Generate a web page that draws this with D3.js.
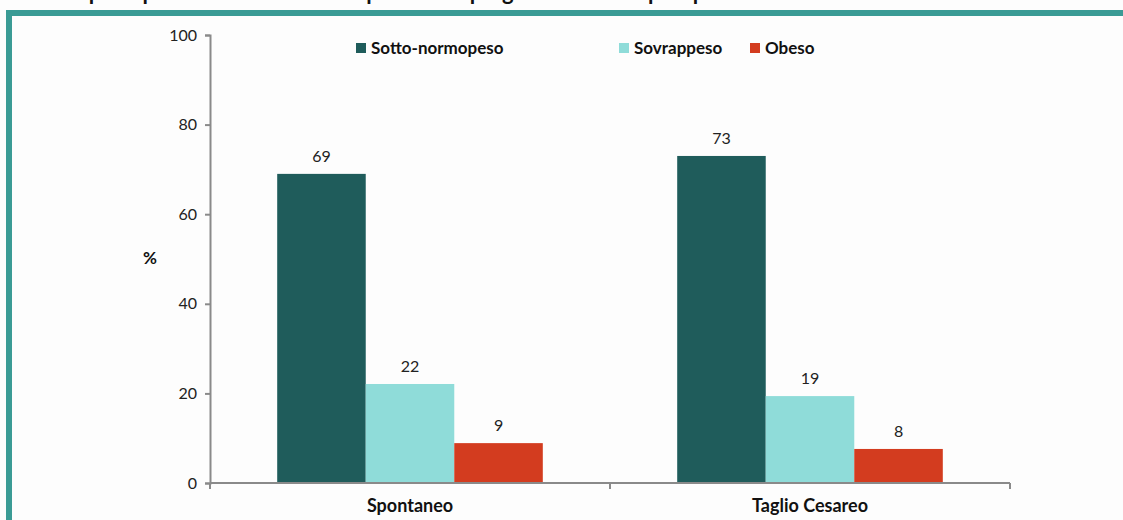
<!DOCTYPE html>
<html>
<head>
<meta charset="utf-8">
<script src="https://cdn.jsdelivr.net/npm/d3@7"></script>
<style>
  body { margin: 0; background: #fdfdfd; }
  svg { display: block; font-family: Lato, "Open Sans", sans-serif; }
</style>
</head>
<body>
<div id="chart"></div>
<script>
// Data
var categories = ["Spontaneo", "Taglio Cesareo"];
var seriesNames = ["Sotto-normopeso", "Sovrappeso", "Obeso"];
var sottoNormopeso = [69.0, 73.0];
var sovrappeso = [22.1, 19.4];
var obeso = [8.9, 7.6];
var yTicks = [0, 20, 40, 60, 80, 100];
var colors = ["#1f5c5b", "#8fdcd9", "#d33c1f"];

var svgWidth = 1123;
var svgHeight = 520;

var margin = { top: 35, right: 113, bottom: 37, left: 210 };
var chartWidth = svgWidth - margin.left - margin.right;
var chartHeight = svgHeight - margin.top - margin.bottom;

var svg = d3.select("#chart")
    .append("svg")
    .attr("width", svgWidth)
    .attr("height", svgHeight);

// frame (teal border, top and left)
svg.append("rect")
    .attr("x", 6).attr("y", 10)
    .attr("width", svgWidth - 6).attr("height", 6)
    .attr("fill", "#3a9b95");
svg.append("rect")
    .attr("x", 6).attr("y", 10)
    .attr("width", 6).attr("height", svgHeight - 10)
    .attr("fill", "#3a9b95");

// title, cut off by the top of the picture
svg.append("text")
    .attr("x", 70)
    .attr("y", 0)
    .attr("font-size", "22px")
    .attr("font-weight", "bold")
    .attr("fill", "#111")
    .text("Tipo di parto secondo lo stato ponderale pregravidico della puerpera");

var chartGroup = svg.append("g")
    .attr("transform", `translate(${margin.left}, ${margin.top})`);

var table = categories.map(function(c, i) {
    return { cat: c, values: [sottoNormopeso[i], sovrappeso[i], obeso[i]] };
});

var x0 = d3.scaleBand()
    .domain(categories)
    .range([0, chartWidth])
    .paddingInner(0.336)
    .paddingOuter(0.168);

var x1 = d3.scaleBand()
    .domain(d3.range(seriesNames.length))
    .range([0, x0.bandwidth()]);

var yLinearScale = d3.scaleLinear()
    .domain([0, 100])
    .range([chartHeight, 0]);

// bars
var groups = chartGroup.selectAll(".cat")
    .data(table)
    .enter()
    .append("g")
    .attr("transform", d => `translate(${x0(d.cat)}, 0)`);

groups.selectAll("rect")
    .data(d => d.values)
    .enter()
    .append("rect")
    .attr("x", (d, i) => x1(i))
    .attr("y", d => yLinearScale(d))
    .attr("width", x1.bandwidth())
    .attr("height", d => chartHeight - yLinearScale(d))
    .attr("fill", (d, i) => colors[i]);

groups.selectAll(".val")
    .data(d => d.values)
    .enter()
    .append("text")
    .attr("x", (d, i) => x1(i) + x1.bandwidth() / 2)
    .attr("y", d => yLinearScale(d) - 12)
    .attr("text-anchor", "middle")
    .attr("font-size", "16px")
    .attr("fill", "#222")
    .text(d => Math.round(d));

// axes
var leftAxis = d3.axisLeft(yLinearScale).tickValues(yTicks).tickSize(5).tickPadding(8);
var bottomAxis = d3.axisBottom(x0).tickSize(0).tickPadding(16);

var yAxisG = chartGroup.append("g").call(leftAxis);
yAxisG.selectAll("path, line").attr("stroke", "#8a8a8a").attr("stroke-width", 2);
yAxisG.selectAll("text")
    .attr("font-family", "Lato, sans-serif")
    .attr("font-size", "16px")
    .attr("fill", "#222");

var xAxisG = chartGroup.append("g")
    .attr("transform", "translate(0, " + chartHeight + ")")
    .call(bottomAxis);
xAxisG.select(".domain").attr("d", `M0,0H${chartWidth}`).attr("stroke", "#8a8a8a").attr("stroke-width", 2);
xAxisG.selectAll("text")
    .attr("font-family", "Lato, sans-serif")
    .attr("font-size", "18px")
    .attr("font-weight", "bold")
    .attr("fill", "#111");

// category separators on the x axis
chartGroup.append("g")
    .selectAll("line")
    .data(categories.concat(["end"]))
    .enter()
    .append("line")
    .attr("x1", (d, i) => i * x0.step())
    .attr("x2", (d, i) => i * x0.step())
    .attr("y1", chartHeight)
    .attr("y2", chartHeight + 6)
    .attr("stroke", "#8a8a8a")
    .attr("stroke-width", 2);

// y label
chartGroup.append("text")
    .attr("x", -60)
    .attr("y", chartHeight / 2 + 5)
    .attr("text-anchor", "middle")
    .attr("font-size", "17px")
    .attr("font-weight", "bold")
    .attr("fill", "#111")
    .text("%");

// legend
var legendX = [356, 619, 750];
var legend = svg.append("g")
    .selectAll("g")
    .data(seriesNames)
    .enter()
    .append("g")
    .attr("transform", (d, i) => `translate(${legendX[i]}, 43)`);

legend.append("rect")
    .attr("width", 10)
    .attr("height", 10)
    .attr("fill", (d, i) => colors[i]);

legend.append("text")
    .attr("x", 15)
    .attr("y", 11)
    .attr("font-size", "17px")
    .attr("font-weight", "bold")
    .attr("fill", "#111")
    .text(d => d);
</script>
</body>
</html>
